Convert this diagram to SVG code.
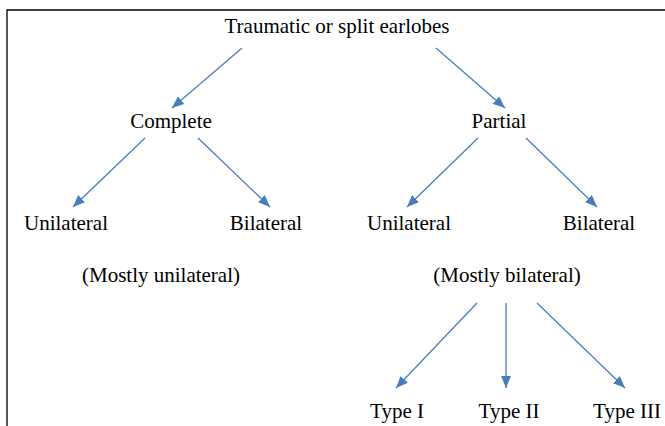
<svg xmlns="http://www.w3.org/2000/svg" width="665" height="426" viewBox="0 0 665 426">
<style>
text{font-family:"Liberation Serif","Times New Roman",serif;font-size:21px;fill:#000;text-anchor:middle}
.c line{stroke:#4A7EBB;stroke-width:1.3;marker-end:url(#ah)}
</style>
<defs>
<marker id="ah" markerUnits="userSpaceOnUse" markerWidth="12" markerHeight="10" viewBox="0 0 12 10" refX="12" refY="5" orient="auto">
<path d="M0,0 L12,5 L0,10 Z" fill="#4A7EBB"/>
</marker>
</defs>
<rect width="665" height="426" fill="#fff"/>
<path d="M7,426 V10 H665" fill="none" stroke="#000" stroke-width="1.3"/>
<g class="c">
<line x1="242" y1="48" x2="172" y2="108"/>
<line x1="436" y1="48" x2="505" y2="108"/>
<line x1="145" y1="138" x2="73" y2="207"/>
<line x1="198" y1="138" x2="270" y2="207"/>
<line x1="478" y1="138" x2="407" y2="207"/>
<line x1="526" y1="138" x2="597" y2="207"/>
<line x1="477" y1="303" x2="396" y2="388"/>
<line x1="506" y1="303" x2="506" y2="388"/>
<line x1="537" y1="303" x2="625" y2="388"/>
</g>
<g id="root"><text x="337" y="33">Traumatic or split earlobes</text></g>
<g id="complete"><text x="171" y="128">Complete</text></g>
<g id="partial"><text x="499" y="128">Partial</text></g>
<g id="c-uni"><text x="66" y="230">Unilateral</text></g>
<g id="c-bi"><text x="266" y="230">Bilateral</text></g>
<g id="p-uni"><text x="409" y="230">Unilateral</text></g>
<g id="p-bi"><text x="599" y="230">Bilateral</text></g>
<g id="note-uni"><text x="161" y="282">(Mostly unilateral)</text></g>
<g id="note-bi"><text x="507" y="282">(Mostly bilateral)</text></g>
<g id="type1"><text x="397" y="418">Type I</text></g>
<g id="type2"><text x="509" y="418">Type II</text></g>
<g id="type3"><text x="627" y="418">Type III</text></g>
</svg>
